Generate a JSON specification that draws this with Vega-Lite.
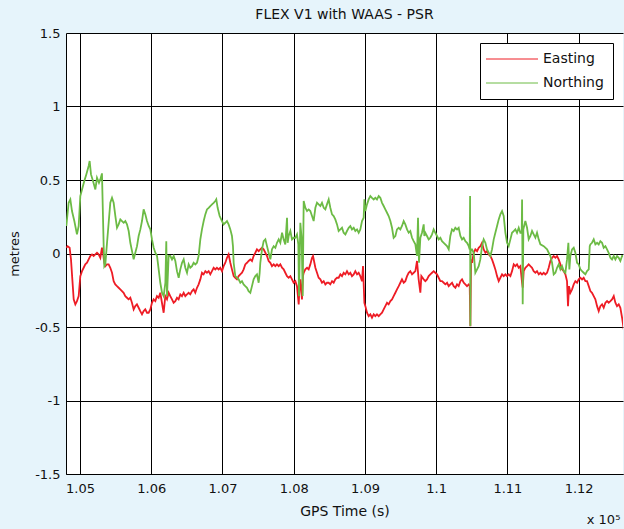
{
  "$schema": "https://vega.github.io/schema/vega-lite/v6.json",
  "width": 557,
  "height": 441,
  "autosize": {"type": "none"},
  "padding": {"left": 66, "top": 33, "right": 1, "bottom": 55},
  "background": "#e6f4fb",
  "config": {
    "font": "DejaVu Sans",
    "view": {"stroke": null, "fill": "#ffffff"}
  },
  "title": {"text": "FLEX V1 with WAAS - PSR", "fontSize": 14, "fontWeight": "normal", "color": "#111111", "offset": 5, "anchor": "middle", "font": "DejaVu Sans"},
  "layer": [
    {
      "data": {"values": [
        {"t":104808,"v":0.039,"s":"Easting"},{"t":104826,"v":0.050,"s":"Easting"},{"t":104854,"v":0.039,"s":"Easting"},{"t":104873,"v":-0.040,"s":"Easting"},{"t":104892,"v":-0.176,"s":"Easting"},{"t":104911,"v":-0.312,"s":"Easting"},{"t":104934,"v":-0.346,"s":"Easting"},{"t":104957,"v":-0.324,"s":"Easting"},{"t":104981,"v":-0.290,"s":"Easting"},{"t":105004,"v":-0.154,"s":"Easting"},{"t":105028,"v":-0.120,"s":"Easting"},{"t":105051,"v":-0.097,"s":"Easting"},{"t":105074,"v":-0.074,"s":"Easting"},{"t":105098,"v":-0.063,"s":"Easting"},{"t":105121,"v":-0.040,"s":"Easting"},{"t":105144,"v":-0.017,"s":"Easting"},{"t":105168,"v":-0.006,"s":"Easting"},{"t":105191,"v":-0.017,"s":"Easting"},{"t":105215,"v":-0.006,"s":"Easting"},{"t":105238,"v":0.005,"s":"Easting"},{"t":105261,"v":-0.006,"s":"Easting"},{"t":105285,"v":-0.029,"s":"Easting"},{"t":105308,"v":0.039,"s":"Easting"},{"t":105322,"v":0.005,"s":"Easting"},{"t":105341,"v":-0.063,"s":"Easting"},{"t":105355,"v":-0.086,"s":"Easting"},{"t":105378,"v":-0.074,"s":"Easting"},{"t":105402,"v":-0.074,"s":"Easting"},{"t":105425,"v":-0.097,"s":"Easting"},{"t":105449,"v":-0.131,"s":"Easting"},{"t":105472,"v":-0.188,"s":"Easting"},{"t":105495,"v":-0.210,"s":"Easting"},{"t":105519,"v":-0.222,"s":"Easting"},{"t":105542,"v":-0.233,"s":"Easting"},{"t":105565,"v":-0.244,"s":"Easting"},{"t":105589,"v":-0.256,"s":"Easting"},{"t":105612,"v":-0.267,"s":"Easting"},{"t":105636,"v":-0.290,"s":"Easting"},{"t":105659,"v":-0.301,"s":"Easting"},{"t":105682,"v":-0.312,"s":"Easting"},{"t":105706,"v":-0.301,"s":"Easting"},{"t":105729,"v":-0.335,"s":"Easting"},{"t":105753,"v":-0.380,"s":"Easting"},{"t":105776,"v":-0.358,"s":"Easting"},{"t":105799,"v":-0.346,"s":"Easting"},{"t":105823,"v":-0.369,"s":"Easting"},{"t":105846,"v":-0.392,"s":"Easting"},{"t":105870,"v":-0.414,"s":"Easting"},{"t":105893,"v":-0.392,"s":"Easting"},{"t":105916,"v":-0.380,"s":"Easting"},{"t":105940,"v":-0.403,"s":"Easting"},{"t":105963,"v":-0.403,"s":"Easting"},{"t":105987,"v":-0.380,"s":"Easting"},{"t":106010,"v":-0.335,"s":"Easting"},{"t":106033,"v":-0.312,"s":"Easting"},{"t":106057,"v":-0.324,"s":"Easting"},{"t":106080,"v":-0.290,"s":"Easting"},{"t":106104,"v":-0.301,"s":"Easting"},{"t":106127,"v":-0.267,"s":"Easting"},{"t":106150,"v":-0.335,"s":"Easting"},{"t":106174,"v":-0.403,"s":"Easting"},{"t":106197,"v":-0.290,"s":"Easting"},{"t":106221,"v":-0.312,"s":"Easting"},{"t":106244,"v":-0.267,"s":"Easting"},{"t":106267,"v":-0.290,"s":"Easting"},{"t":106291,"v":-0.312,"s":"Easting"},{"t":106314,"v":-0.335,"s":"Easting"},{"t":106338,"v":-0.324,"s":"Easting"},{"t":106361,"v":-0.301,"s":"Easting"},{"t":106384,"v":-0.312,"s":"Easting"},{"t":106408,"v":-0.278,"s":"Easting"},{"t":106431,"v":-0.290,"s":"Easting"},{"t":106455,"v":-0.267,"s":"Easting"},{"t":106478,"v":-0.290,"s":"Easting"},{"t":106501,"v":-0.278,"s":"Easting"},{"t":106525,"v":-0.267,"s":"Easting"},{"t":106548,"v":-0.278,"s":"Easting"},{"t":106572,"v":-0.256,"s":"Easting"},{"t":106595,"v":-0.244,"s":"Easting"},{"t":106618,"v":-0.267,"s":"Easting"},{"t":106642,"v":-0.233,"s":"Easting"},{"t":106665,"v":-0.210,"s":"Easting"},{"t":106689,"v":-0.176,"s":"Easting"},{"t":106712,"v":-0.131,"s":"Easting"},{"t":106735,"v":-0.142,"s":"Easting"},{"t":106759,"v":-0.120,"s":"Easting"},{"t":106782,"v":-0.131,"s":"Easting"},{"t":106806,"v":-0.120,"s":"Easting"},{"t":106829,"v":-0.142,"s":"Easting"},{"t":106852,"v":-0.120,"s":"Easting"},{"t":106876,"v":-0.097,"s":"Easting"},{"t":106899,"v":-0.108,"s":"Easting"},{"t":106922,"v":-0.097,"s":"Easting"},{"t":106946,"v":-0.108,"s":"Easting"},{"t":106969,"v":-0.097,"s":"Easting"},{"t":106993,"v":-0.120,"s":"Easting"},{"t":107016,"v":-0.086,"s":"Easting"},{"t":107040,"v":-0.063,"s":"Easting"},{"t":107063,"v":-0.029,"s":"Easting"},{"t":107086,"v":-0.006,"s":"Easting"},{"t":107110,"v":-0.063,"s":"Easting"},{"t":107133,"v":-0.108,"s":"Easting"},{"t":107157,"v":-0.154,"s":"Easting"},{"t":107180,"v":-0.165,"s":"Easting"},{"t":107203,"v":-0.176,"s":"Easting"},{"t":107227,"v":-0.154,"s":"Easting"},{"t":107250,"v":-0.142,"s":"Easting"},{"t":107274,"v":-0.131,"s":"Easting"},{"t":107297,"v":-0.108,"s":"Easting"},{"t":107320,"v":-0.074,"s":"Easting"},{"t":107344,"v":-0.063,"s":"Easting"},{"t":107367,"v":-0.051,"s":"Easting"},{"t":107391,"v":-0.040,"s":"Easting"},{"t":107414,"v":-0.051,"s":"Easting"},{"t":107437,"v":-0.017,"s":"Easting"},{"t":107461,"v":0.005,"s":"Easting"},{"t":107484,"v":0.028,"s":"Easting"},{"t":107508,"v":0.016,"s":"Easting"},{"t":107531,"v":0.028,"s":"Easting"},{"t":107555,"v":0.039,"s":"Easting"},{"t":107578,"v":0.028,"s":"Easting"},{"t":107602,"v":0.005,"s":"Easting"},{"t":107625,"v":-0.017,"s":"Easting"},{"t":107648,"v":-0.051,"s":"Easting"},{"t":107672,"v":-0.063,"s":"Easting"},{"t":107695,"v":-0.086,"s":"Easting"},{"t":107719,"v":-0.074,"s":"Easting"},{"t":107742,"v":-0.086,"s":"Easting"},{"t":107765,"v":-0.074,"s":"Easting"},{"t":107789,"v":-0.086,"s":"Easting"},{"t":107812,"v":-0.074,"s":"Easting"},{"t":107836,"v":-0.097,"s":"Easting"},{"t":107859,"v":-0.108,"s":"Easting"},{"t":107882,"v":-0.131,"s":"Easting"},{"t":107906,"v":-0.154,"s":"Easting"},{"t":107929,"v":-0.165,"s":"Easting"},{"t":107953,"v":-0.154,"s":"Easting"},{"t":107976,"v":-0.176,"s":"Easting"},{"t":107999,"v":-0.199,"s":"Easting"},{"t":108023,"v":-0.188,"s":"Easting"},{"t":108046,"v":-0.222,"s":"Easting"},{"t":108070,"v":-0.346,"s":"Easting"},{"t":108084,"v":-0.199,"s":"Easting"},{"t":108093,"v":-0.176,"s":"Easting"},{"t":108116,"v":-0.312,"s":"Easting"},{"t":108130,"v":-0.154,"s":"Easting"},{"t":108140,"v":-0.131,"s":"Easting"},{"t":108163,"v":-0.108,"s":"Easting"},{"t":108187,"v":-0.097,"s":"Easting"},{"t":108210,"v":-0.108,"s":"Easting"},{"t":108233,"v":-0.074,"s":"Easting"},{"t":108257,"v":-0.029,"s":"Easting"},{"t":108271,"v":-0.017,"s":"Easting"},{"t":108290,"v":-0.063,"s":"Easting"},{"t":108304,"v":-0.097,"s":"Easting"},{"t":108327,"v":-0.131,"s":"Easting"},{"t":108350,"v":-0.165,"s":"Easting"},{"t":108374,"v":-0.176,"s":"Easting"},{"t":108397,"v":-0.199,"s":"Easting"},{"t":108421,"v":-0.188,"s":"Easting"},{"t":108444,"v":-0.210,"s":"Easting"},{"t":108467,"v":-0.199,"s":"Easting"},{"t":108491,"v":-0.199,"s":"Easting"},{"t":108514,"v":-0.210,"s":"Easting"},{"t":108538,"v":-0.188,"s":"Easting"},{"t":108561,"v":-0.199,"s":"Easting"},{"t":108584,"v":-0.176,"s":"Easting"},{"t":108608,"v":-0.165,"s":"Easting"},{"t":108631,"v":-0.165,"s":"Easting"},{"t":108655,"v":-0.142,"s":"Easting"},{"t":108678,"v":-0.154,"s":"Easting"},{"t":108701,"v":-0.131,"s":"Easting"},{"t":108725,"v":-0.142,"s":"Easting"},{"t":108748,"v":-0.120,"s":"Easting"},{"t":108772,"v":-0.142,"s":"Easting"},{"t":108795,"v":-0.131,"s":"Easting"},{"t":108818,"v":-0.154,"s":"Easting"},{"t":108842,"v":-0.142,"s":"Easting"},{"t":108865,"v":-0.120,"s":"Easting"},{"t":108889,"v":-0.142,"s":"Easting"},{"t":108912,"v":-0.131,"s":"Easting"},{"t":108935,"v":-0.154,"s":"Easting"},{"t":108959,"v":-0.188,"s":"Easting"},{"t":108973,"v":-0.086,"s":"Easting"},{"t":108992,"v":-0.335,"s":"Easting"},{"t":109006,"v":-0.358,"s":"Easting"},{"t":109029,"v":-0.403,"s":"Easting"},{"t":109052,"v":-0.426,"s":"Easting"},{"t":109076,"v":-0.414,"s":"Easting"},{"t":109099,"v":-0.437,"s":"Easting"},{"t":109123,"v":-0.414,"s":"Easting"},{"t":109146,"v":-0.426,"s":"Easting"},{"t":109169,"v":-0.414,"s":"Easting"},{"t":109193,"v":-0.426,"s":"Easting"},{"t":109216,"v":-0.414,"s":"Easting"},{"t":109240,"v":-0.403,"s":"Easting"},{"t":109263,"v":-0.380,"s":"Easting"},{"t":109286,"v":-0.358,"s":"Easting"},{"t":109310,"v":-0.335,"s":"Easting"},{"t":109333,"v":-0.346,"s":"Easting"},{"t":109357,"v":-0.324,"s":"Easting"},{"t":109380,"v":-0.312,"s":"Easting"},{"t":109403,"v":-0.290,"s":"Easting"},{"t":109427,"v":-0.267,"s":"Easting"},{"t":109450,"v":-0.244,"s":"Easting"},{"t":109474,"v":-0.222,"s":"Easting"},{"t":109497,"v":-0.199,"s":"Easting"},{"t":109520,"v":-0.176,"s":"Easting"},{"t":109544,"v":-0.199,"s":"Easting"},{"t":109567,"v":-0.188,"s":"Easting"},{"t":109591,"v":-0.154,"s":"Easting"},{"t":109614,"v":-0.131,"s":"Easting"},{"t":109637,"v":-0.120,"s":"Easting"},{"t":109661,"v":-0.142,"s":"Easting"},{"t":109684,"v":-0.131,"s":"Easting"},{"t":109708,"v":-0.120,"s":"Easting"},{"t":109731,"v":-0.051,"s":"Easting"},{"t":109754,"v":-0.176,"s":"Easting"},{"t":109778,"v":-0.267,"s":"Easting"},{"t":109792,"v":-0.154,"s":"Easting"},{"t":109825,"v":-0.176,"s":"Easting"},{"t":109848,"v":-0.188,"s":"Easting"},{"t":109871,"v":-0.176,"s":"Easting"},{"t":109895,"v":-0.154,"s":"Easting"},{"t":109918,"v":-0.142,"s":"Easting"},{"t":109942,"v":-0.131,"s":"Easting"},{"t":109965,"v":-0.120,"s":"Easting"},{"t":109988,"v":-0.131,"s":"Easting"},{"t":110012,"v":-0.142,"s":"Easting"},{"t":110035,"v":-0.165,"s":"Easting"},{"t":110059,"v":-0.188,"s":"Easting"},{"t":110082,"v":-0.188,"s":"Easting"},{"t":110106,"v":-0.199,"s":"Easting"},{"t":110129,"v":-0.210,"s":"Easting"},{"t":110153,"v":-0.199,"s":"Easting"},{"t":110176,"v":-0.222,"s":"Easting"},{"t":110199,"v":-0.210,"s":"Easting"},{"t":110223,"v":-0.199,"s":"Easting"},{"t":110246,"v":-0.222,"s":"Easting"},{"t":110270,"v":-0.233,"s":"Easting"},{"t":110293,"v":-0.210,"s":"Easting"},{"t":110316,"v":-0.222,"s":"Easting"},{"t":110340,"v":-0.188,"s":"Easting"},{"t":110363,"v":-0.176,"s":"Easting"},{"t":110387,"v":-0.199,"s":"Easting"},{"t":110410,"v":-0.210,"s":"Easting"},{"t":110433,"v":-0.222,"s":"Easting"},{"t":110457,"v":-0.210,"s":"Easting"},{"t":110471,"v":-0.222,"s":"Easting"},{"t":110480,"v":-0.494,"s":"Easting"},{"t":110490,"v":-0.040,"s":"Easting"},{"t":110504,"v":-0.063,"s":"Easting"},{"t":110527,"v":0.005,"s":"Easting"},{"t":110550,"v":0.028,"s":"Easting"},{"t":110574,"v":0.016,"s":"Easting"},{"t":110597,"v":0.039,"s":"Easting"},{"t":110621,"v":0.050,"s":"Easting"},{"t":110644,"v":0.073,"s":"Easting"},{"t":110667,"v":0.028,"s":"Easting"},{"t":110691,"v":0.005,"s":"Easting"},{"t":110714,"v":0.016,"s":"Easting"},{"t":110738,"v":-0.006,"s":"Easting"},{"t":110761,"v":-0.017,"s":"Easting"},{"t":110784,"v":-0.040,"s":"Easting"},{"t":110808,"v":-0.074,"s":"Easting"},{"t":110831,"v":-0.108,"s":"Easting"},{"t":110855,"v":-0.154,"s":"Easting"},{"t":110878,"v":-0.188,"s":"Easting"},{"t":110901,"v":-0.165,"s":"Easting"},{"t":110925,"v":-0.142,"s":"Easting"},{"t":110948,"v":-0.154,"s":"Easting"},{"t":110972,"v":-0.142,"s":"Easting"},{"t":110995,"v":-0.154,"s":"Easting"},{"t":111018,"v":-0.142,"s":"Easting"},{"t":111042,"v":-0.154,"s":"Easting"},{"t":111065,"v":-0.120,"s":"Easting"},{"t":111089,"v":-0.074,"s":"Easting"},{"t":111112,"v":-0.086,"s":"Easting"},{"t":111135,"v":-0.074,"s":"Easting"},{"t":111159,"v":-0.097,"s":"Easting"},{"t":111182,"v":-0.086,"s":"Easting"},{"t":111206,"v":-0.199,"s":"Easting"},{"t":111215,"v":-0.233,"s":"Easting"},{"t":111229,"v":-0.120,"s":"Easting"},{"t":111252,"v":-0.097,"s":"Easting"},{"t":111276,"v":-0.086,"s":"Easting"},{"t":111299,"v":-0.074,"s":"Easting"},{"t":111323,"v":-0.086,"s":"Easting"},{"t":111346,"v":-0.097,"s":"Easting"},{"t":111369,"v":-0.120,"s":"Easting"},{"t":111393,"v":-0.131,"s":"Easting"},{"t":111416,"v":-0.120,"s":"Easting"},{"t":111440,"v":-0.142,"s":"Easting"},{"t":111463,"v":-0.131,"s":"Easting"},{"t":111486,"v":-0.142,"s":"Easting"},{"t":111510,"v":-0.131,"s":"Easting"},{"t":111533,"v":-0.142,"s":"Easting"},{"t":111557,"v":-0.131,"s":"Easting"},{"t":111580,"v":-0.097,"s":"Easting"},{"t":111603,"v":-0.051,"s":"Easting"},{"t":111627,"v":-0.029,"s":"Easting"},{"t":111650,"v":-0.017,"s":"Easting"},{"t":111674,"v":-0.029,"s":"Easting"},{"t":111697,"v":-0.017,"s":"Easting"},{"t":111720,"v":-0.040,"s":"Easting"},{"t":111744,"v":-0.074,"s":"Easting"},{"t":111767,"v":-0.108,"s":"Easting"},{"t":111791,"v":-0.120,"s":"Easting"},{"t":111814,"v":-0.142,"s":"Easting"},{"t":111837,"v":-0.188,"s":"Easting"},{"t":111851,"v":-0.358,"s":"Easting"},{"t":111865,"v":-0.222,"s":"Easting"},{"t":111884,"v":-0.267,"s":"Easting"},{"t":111908,"v":-0.244,"s":"Easting"},{"t":111931,"v":-0.210,"s":"Easting"},{"t":111954,"v":-0.188,"s":"Easting"},{"t":111978,"v":-0.199,"s":"Easting"},{"t":112001,"v":-0.176,"s":"Easting"},{"t":112025,"v":-0.165,"s":"Easting"},{"t":112048,"v":-0.176,"s":"Easting"},{"t":112071,"v":-0.165,"s":"Easting"},{"t":112095,"v":-0.188,"s":"Easting"},{"t":112118,"v":-0.188,"s":"Easting"},{"t":112142,"v":-0.222,"s":"Easting"},{"t":112165,"v":-0.256,"s":"Easting"},{"t":112188,"v":-0.267,"s":"Easting"},{"t":112212,"v":-0.290,"s":"Easting"},{"t":112235,"v":-0.312,"s":"Easting"},{"t":112259,"v":-0.358,"s":"Easting"},{"t":112282,"v":-0.392,"s":"Easting"},{"t":112305,"v":-0.358,"s":"Easting"},{"t":112329,"v":-0.346,"s":"Easting"},{"t":112352,"v":-0.369,"s":"Easting"},{"t":112376,"v":-0.335,"s":"Easting"},{"t":112399,"v":-0.324,"s":"Easting"},{"t":112422,"v":-0.335,"s":"Easting"},{"t":112446,"v":-0.324,"s":"Easting"},{"t":112469,"v":-0.312,"s":"Easting"},{"t":112493,"v":-0.290,"s":"Easting"},{"t":112516,"v":-0.335,"s":"Easting"},{"t":112539,"v":-0.358,"s":"Easting"},{"t":112563,"v":-0.346,"s":"Easting"},{"t":112586,"v":-0.369,"s":"Easting"},{"t":112610,"v":-0.437,"s":"Easting"},{"t":112633,"v":-0.517,"s":"Easting"},
        {"t":104808,"v":0.187,"s":"Northing"},{"t":104840,"v":0.345,"s":"Northing"},{"t":104864,"v":0.368,"s":"Northing"},{"t":104887,"v":0.289,"s":"Northing"},{"t":104920,"v":0.221,"s":"Northing"},{"t":104957,"v":0.130,"s":"Northing"},{"t":104981,"v":0.187,"s":"Northing"},{"t":105004,"v":0.391,"s":"Northing"},{"t":105028,"v":0.436,"s":"Northing"},{"t":105060,"v":0.493,"s":"Northing"},{"t":105088,"v":0.538,"s":"Northing"},{"t":105121,"v":0.595,"s":"Northing"},{"t":105135,"v":0.629,"s":"Northing"},{"t":105154,"v":0.538,"s":"Northing"},{"t":105182,"v":0.493,"s":"Northing"},{"t":105215,"v":0.436,"s":"Northing"},{"t":105238,"v":0.515,"s":"Northing"},{"t":105266,"v":0.481,"s":"Northing"},{"t":105285,"v":0.504,"s":"Northing"},{"t":105308,"v":0.545,"s":"Northing"},{"t":105322,"v":0.255,"s":"Northing"},{"t":105332,"v":0.050,"s":"Northing"},{"t":105341,"v":-0.086,"s":"Northing"},{"t":105355,"v":-0.074,"s":"Northing"},{"t":105379,"v":0.073,"s":"Northing"},{"t":105402,"v":0.209,"s":"Northing"},{"t":105425,"v":0.345,"s":"Northing"},{"t":105449,"v":0.379,"s":"Northing"},{"t":105472,"v":0.345,"s":"Northing"},{"t":105496,"v":0.255,"s":"Northing"},{"t":105519,"v":0.175,"s":"Northing"},{"t":105542,"v":0.198,"s":"Northing"},{"t":105566,"v":0.232,"s":"Northing"},{"t":105589,"v":0.221,"s":"Northing"},{"t":105613,"v":0.209,"s":"Northing"},{"t":105636,"v":0.221,"s":"Northing"},{"t":105659,"v":0.198,"s":"Northing"},{"t":105683,"v":0.153,"s":"Northing"},{"t":105706,"v":0.073,"s":"Northing"},{"t":105730,"v":0.016,"s":"Northing"},{"t":105753,"v":-0.040,"s":"Northing"},{"t":105776,"v":0.005,"s":"Northing"},{"t":105800,"v":0.050,"s":"Northing"},{"t":105823,"v":0.119,"s":"Northing"},{"t":105847,"v":0.164,"s":"Northing"},{"t":105870,"v":0.221,"s":"Northing"},{"t":105893,"v":0.300,"s":"Northing"},{"t":105917,"v":0.266,"s":"Northing"},{"t":105940,"v":0.221,"s":"Northing"},{"t":105964,"v":0.187,"s":"Northing"},{"t":105987,"v":0.164,"s":"Northing"},{"t":106010,"v":0.096,"s":"Northing"},{"t":106034,"v":0.039,"s":"Northing"},{"t":106057,"v":0.005,"s":"Northing"},{"t":106081,"v":-0.017,"s":"Northing"},{"t":106104,"v":-0.108,"s":"Northing"},{"t":106127,"v":-0.199,"s":"Northing"},{"t":106151,"v":-0.267,"s":"Northing"},{"t":106174,"v":-0.290,"s":"Northing"},{"t":106198,"v":-0.199,"s":"Northing"},{"t":106211,"v":0.084,"s":"Northing"},{"t":106221,"v":-0.290,"s":"Northing"},{"t":106244,"v":-0.017,"s":"Northing"},{"t":106268,"v":-0.017,"s":"Northing"},{"t":106291,"v":-0.040,"s":"Northing"},{"t":106315,"v":-0.017,"s":"Northing"},{"t":106338,"v":-0.051,"s":"Northing"},{"t":106361,"v":-0.120,"s":"Northing"},{"t":106385,"v":-0.165,"s":"Northing"},{"t":106408,"v":-0.108,"s":"Northing"},{"t":106432,"v":-0.063,"s":"Northing"},{"t":106455,"v":-0.040,"s":"Northing"},{"t":106478,"v":-0.097,"s":"Northing"},{"t":106502,"v":-0.131,"s":"Northing"},{"t":106525,"v":-0.074,"s":"Northing"},{"t":106548,"v":-0.097,"s":"Northing"},{"t":106572,"v":-0.086,"s":"Northing"},{"t":106595,"v":-0.063,"s":"Northing"},{"t":106619,"v":-0.074,"s":"Northing"},{"t":106642,"v":-0.063,"s":"Northing"},{"t":106665,"v":-0.017,"s":"Northing"},{"t":106689,"v":0.096,"s":"Northing"},{"t":106712,"v":0.164,"s":"Northing"},{"t":106736,"v":0.221,"s":"Northing"},{"t":106759,"v":0.266,"s":"Northing"},{"t":106782,"v":0.300,"s":"Northing"},{"t":106806,"v":0.311,"s":"Northing"},{"t":106829,"v":0.323,"s":"Northing"},{"t":106853,"v":0.334,"s":"Northing"},{"t":106876,"v":0.345,"s":"Northing"},{"t":106899,"v":0.357,"s":"Northing"},{"t":106913,"v":0.368,"s":"Northing"},{"t":106932,"v":0.311,"s":"Northing"},{"t":106960,"v":0.255,"s":"Northing"},{"t":106993,"v":0.221,"s":"Northing"},{"t":107016,"v":0.198,"s":"Northing"},{"t":107040,"v":0.209,"s":"Northing"},{"t":107063,"v":0.221,"s":"Northing"},{"t":107086,"v":0.198,"s":"Northing"},{"t":107110,"v":0.164,"s":"Northing"},{"t":107133,"v":0.119,"s":"Northing"},{"t":107147,"v":0.050,"s":"Northing"},{"t":107157,"v":-0.063,"s":"Northing"},{"t":107180,"v":-0.154,"s":"Northing"},{"t":107203,"v":-0.165,"s":"Northing"},{"t":107227,"v":-0.176,"s":"Northing"},{"t":107250,"v":-0.199,"s":"Northing"},{"t":107274,"v":-0.188,"s":"Northing"},{"t":107297,"v":-0.210,"s":"Northing"},{"t":107320,"v":-0.222,"s":"Northing"},{"t":107344,"v":-0.233,"s":"Northing"},{"t":107367,"v":-0.256,"s":"Northing"},{"t":107391,"v":-0.267,"s":"Northing"},{"t":107414,"v":-0.222,"s":"Northing"},{"t":107437,"v":-0.176,"s":"Northing"},{"t":107461,"v":-0.154,"s":"Northing"},{"t":107484,"v":-0.142,"s":"Northing"},{"t":107508,"v":-0.199,"s":"Northing"},{"t":107522,"v":-0.131,"s":"Northing"},{"t":107531,"v":-0.063,"s":"Northing"},{"t":107555,"v":0.028,"s":"Northing"},{"t":107578,"v":0.084,"s":"Northing"},{"t":107602,"v":0.096,"s":"Northing"},{"t":107625,"v":0.050,"s":"Northing"},{"t":107648,"v":0.005,"s":"Northing"},{"t":107672,"v":-0.040,"s":"Northing"},{"t":107695,"v":0.028,"s":"Northing"},{"t":107719,"v":0.050,"s":"Northing"},{"t":107742,"v":0.039,"s":"Northing"},{"t":107765,"v":0.073,"s":"Northing"},{"t":107789,"v":0.096,"s":"Northing"},{"t":107812,"v":0.073,"s":"Northing"},{"t":107836,"v":0.141,"s":"Northing"},{"t":107859,"v":0.096,"s":"Northing"},{"t":107882,"v":0.062,"s":"Northing"},{"t":107906,"v":0.243,"s":"Northing"},{"t":107915,"v":0.073,"s":"Northing"},{"t":107929,"v":0.119,"s":"Northing"},{"t":107953,"v":0.153,"s":"Northing"},{"t":107976,"v":0.096,"s":"Northing"},{"t":107999,"v":0.107,"s":"Northing"},{"t":108023,"v":0.107,"s":"Northing"},{"t":108046,"v":0.130,"s":"Northing"},{"t":108065,"v":0.062,"s":"Northing"},{"t":108074,"v":-0.290,"s":"Northing"},{"t":108093,"v":0.209,"s":"Northing"},{"t":108112,"v":0.096,"s":"Northing"},{"t":108126,"v":-0.290,"s":"Northing"},{"t":108140,"v":0.357,"s":"Northing"},{"t":108163,"v":0.311,"s":"Northing"},{"t":108187,"v":0.289,"s":"Northing"},{"t":108210,"v":0.300,"s":"Northing"},{"t":108233,"v":0.289,"s":"Northing"},{"t":108257,"v":0.255,"s":"Northing"},{"t":108280,"v":0.221,"s":"Northing"},{"t":108304,"v":0.311,"s":"Northing"},{"t":108327,"v":0.345,"s":"Northing"},{"t":108350,"v":0.334,"s":"Northing"},{"t":108374,"v":0.323,"s":"Northing"},{"t":108397,"v":0.345,"s":"Northing"},{"t":108421,"v":0.311,"s":"Northing"},{"t":108444,"v":0.300,"s":"Northing"},{"t":108467,"v":0.334,"s":"Northing"},{"t":108491,"v":0.368,"s":"Northing"},{"t":108514,"v":0.311,"s":"Northing"},{"t":108538,"v":0.266,"s":"Northing"},{"t":108561,"v":0.255,"s":"Northing"},{"t":108584,"v":0.232,"s":"Northing"},{"t":108608,"v":0.198,"s":"Northing"},{"t":108631,"v":0.153,"s":"Northing"},{"t":108655,"v":0.164,"s":"Northing"},{"t":108678,"v":0.175,"s":"Northing"},{"t":108701,"v":0.141,"s":"Northing"},{"t":108725,"v":0.130,"s":"Northing"},{"t":108748,"v":0.153,"s":"Northing"},{"t":108772,"v":0.175,"s":"Northing"},{"t":108795,"v":0.187,"s":"Northing"},{"t":108818,"v":0.164,"s":"Northing"},{"t":108842,"v":0.175,"s":"Northing"},{"t":108865,"v":0.153,"s":"Northing"},{"t":108889,"v":0.164,"s":"Northing"},{"t":108912,"v":0.141,"s":"Northing"},{"t":108935,"v":0.164,"s":"Northing"},{"t":108959,"v":0.221,"s":"Northing"},{"t":108982,"v":0.243,"s":"Northing"},{"t":108992,"v":0.368,"s":"Northing"},{"t":109006,"v":0.289,"s":"Northing"},{"t":109029,"v":0.334,"s":"Northing"},{"t":109052,"v":0.368,"s":"Northing"},{"t":109076,"v":0.391,"s":"Northing"},{"t":109099,"v":0.379,"s":"Northing"},{"t":109123,"v":0.368,"s":"Northing"},{"t":109146,"v":0.379,"s":"Northing"},{"t":109169,"v":0.368,"s":"Northing"},{"t":109193,"v":0.391,"s":"Northing"},{"t":109216,"v":0.379,"s":"Northing"},{"t":109240,"v":0.345,"s":"Northing"},{"t":109263,"v":0.323,"s":"Northing"},{"t":109286,"v":0.300,"s":"Northing"},{"t":109310,"v":0.277,"s":"Northing"},{"t":109333,"v":0.255,"s":"Northing"},{"t":109357,"v":0.221,"s":"Northing"},{"t":109380,"v":0.175,"s":"Northing"},{"t":109403,"v":0.107,"s":"Northing"},{"t":109427,"v":0.119,"s":"Northing"},{"t":109450,"v":0.164,"s":"Northing"},{"t":109474,"v":0.175,"s":"Northing"},{"t":109497,"v":0.164,"s":"Northing"},{"t":109520,"v":0.187,"s":"Northing"},{"t":109544,"v":0.221,"s":"Northing"},{"t":109567,"v":0.198,"s":"Northing"},{"t":109591,"v":0.164,"s":"Northing"},{"t":109614,"v":0.141,"s":"Northing"},{"t":109637,"v":0.153,"s":"Northing"},{"t":109661,"v":0.107,"s":"Northing"},{"t":109684,"v":0.084,"s":"Northing"},{"t":109708,"v":0.062,"s":"Northing"},{"t":109731,"v":-0.017,"s":"Northing"},{"t":109745,"v":0.243,"s":"Northing"},{"t":109759,"v":-0.063,"s":"Northing"},{"t":109778,"v":0.107,"s":"Northing"},{"t":109801,"v":0.141,"s":"Northing"},{"t":109825,"v":0.198,"s":"Northing"},{"t":109834,"v":0.119,"s":"Northing"},{"t":109848,"v":0.141,"s":"Northing"},{"t":109871,"v":0.119,"s":"Northing"},{"t":109895,"v":0.096,"s":"Northing"},{"t":109918,"v":0.107,"s":"Northing"},{"t":109942,"v":0.130,"s":"Northing"},{"t":109965,"v":0.164,"s":"Northing"},{"t":109988,"v":0.141,"s":"Northing"},{"t":110012,"v":0.119,"s":"Northing"},{"t":110035,"v":0.096,"s":"Northing"},{"t":110059,"v":0.107,"s":"Northing"},{"t":110082,"v":0.084,"s":"Northing"},{"t":110106,"v":0.073,"s":"Northing"},{"t":110152,"v":0.050,"s":"Northing"},{"t":110176,"v":0.028,"s":"Northing"},{"t":110199,"v":0.119,"s":"Northing"},{"t":110222,"v":0.164,"s":"Northing"},{"t":110246,"v":0.153,"s":"Northing"},{"t":110269,"v":0.175,"s":"Northing"},{"t":110293,"v":0.164,"s":"Northing"},{"t":110316,"v":0.175,"s":"Northing"},{"t":110340,"v":0.119,"s":"Northing"},{"t":110363,"v":0.096,"s":"Northing"},{"t":110386,"v":0.107,"s":"Northing"},{"t":110410,"v":0.084,"s":"Northing"},{"t":110433,"v":0.073,"s":"Northing"},{"t":110457,"v":0.050,"s":"Northing"},{"t":110471,"v":0.028,"s":"Northing"},{"t":110476,"v":0.391,"s":"Northing"},{"t":110480,"v":-0.494,"s":"Northing"},{"t":110485,"v":0.028,"s":"Northing"},{"t":110504,"v":0.028,"s":"Northing"},{"t":110527,"v":0.005,"s":"Northing"},{"t":110550,"v":-0.131,"s":"Northing"},{"t":110574,"v":-0.108,"s":"Northing"},{"t":110597,"v":-0.086,"s":"Northing"},{"t":110620,"v":-0.040,"s":"Northing"},{"t":110644,"v":0.050,"s":"Northing"},{"t":110667,"v":0.096,"s":"Northing"},{"t":110691,"v":0.073,"s":"Northing"},{"t":110714,"v":0.028,"s":"Northing"},{"t":110738,"v":0.005,"s":"Northing"},{"t":110761,"v":-0.017,"s":"Northing"},{"t":110784,"v":0.028,"s":"Northing"},{"t":110808,"v":0.096,"s":"Northing"},{"t":110831,"v":0.141,"s":"Northing"},{"t":110855,"v":0.187,"s":"Northing"},{"t":110878,"v":0.232,"s":"Northing"},{"t":110901,"v":0.266,"s":"Northing"},{"t":110925,"v":0.289,"s":"Northing"},{"t":110948,"v":0.255,"s":"Northing"},{"t":110972,"v":0.141,"s":"Northing"},{"t":110995,"v":0.073,"s":"Northing"},{"t":111018,"v":0.050,"s":"Northing"},{"t":111042,"v":0.096,"s":"Northing"},{"t":111065,"v":0.141,"s":"Northing"},{"t":111089,"v":0.153,"s":"Northing"},{"t":111112,"v":0.164,"s":"Northing"},{"t":111135,"v":0.141,"s":"Northing"},{"t":111159,"v":0.175,"s":"Northing"},{"t":111182,"v":0.141,"s":"Northing"},{"t":111201,"v":0.141,"s":"Northing"},{"t":111206,"v":0.368,"s":"Northing"},{"t":111215,"v":-0.346,"s":"Northing"},{"t":111224,"v":0.164,"s":"Northing"},{"t":111252,"v":0.221,"s":"Northing"},{"t":111276,"v":0.175,"s":"Northing"},{"t":111299,"v":0.096,"s":"Northing"},{"t":111323,"v":0.119,"s":"Northing"},{"t":111346,"v":0.153,"s":"Northing"},{"t":111369,"v":0.130,"s":"Northing"},{"t":111393,"v":0.107,"s":"Northing"},{"t":111416,"v":0.141,"s":"Northing"},{"t":111440,"v":0.096,"s":"Northing"},{"t":111463,"v":0.062,"s":"Northing"},{"t":111510,"v":0.050,"s":"Northing"},{"t":111557,"v":0.028,"s":"Northing"},{"t":111580,"v":0.005,"s":"Northing"},{"t":111603,"v":-0.017,"s":"Northing"},{"t":111627,"v":-0.063,"s":"Northing"},{"t":111650,"v":-0.142,"s":"Northing"},{"t":111674,"v":-0.131,"s":"Northing"},{"t":111697,"v":-0.097,"s":"Northing"},{"t":111720,"v":-0.074,"s":"Northing"},{"t":111744,"v":-0.108,"s":"Northing"},{"t":111767,"v":-0.086,"s":"Northing"},{"t":111791,"v":-0.120,"s":"Northing"},{"t":111814,"v":-0.131,"s":"Northing"},{"t":111837,"v":-0.040,"s":"Northing"},{"t":111856,"v":0.073,"s":"Northing"},{"t":111870,"v":-0.108,"s":"Northing"},{"t":111884,"v":-0.017,"s":"Northing"},{"t":111908,"v":0.028,"s":"Northing"},{"t":111931,"v":0.039,"s":"Northing"},{"t":111954,"v":0.005,"s":"Northing"},{"t":111978,"v":-0.063,"s":"Northing"},{"t":112001,"v":-0.074,"s":"Northing"},{"t":112025,"v":-0.108,"s":"Northing"},{"t":112048,"v":-0.120,"s":"Northing"},{"t":112071,"v":-0.131,"s":"Northing"},{"t":112095,"v":-0.142,"s":"Northing"},{"t":112118,"v":-0.120,"s":"Northing"},{"t":112142,"v":-0.108,"s":"Northing"},{"t":112156,"v":0.050,"s":"Northing"},{"t":112165,"v":0.062,"s":"Northing"},{"t":112188,"v":0.073,"s":"Northing"},{"t":112212,"v":0.096,"s":"Northing"},{"t":112235,"v":0.062,"s":"Northing"},{"t":112259,"v":0.073,"s":"Northing"},{"t":112282,"v":0.062,"s":"Northing"},{"t":112305,"v":0.084,"s":"Northing"},{"t":112329,"v":0.073,"s":"Northing"},{"t":112352,"v":0.039,"s":"Northing"},{"t":112376,"v":0.050,"s":"Northing"},{"t":112399,"v":0.028,"s":"Northing"},{"t":112422,"v":0.005,"s":"Northing"},{"t":112446,"v":-0.029,"s":"Northing"},{"t":112469,"v":-0.040,"s":"Northing"},{"t":112493,"v":-0.017,"s":"Northing"},{"t":112516,"v":-0.040,"s":"Northing"},{"t":112539,"v":-0.017,"s":"Northing"},{"t":112563,"v":-0.029,"s":"Northing"},{"t":112586,"v":-0.051,"s":"Northing"},{"t":112610,"v":-0.017,"s":"Northing"},{"t":112633,"v":-0.017,"s":"Northing"}
      ]},
      "mark": {"type": "line", "strokeWidth": 1.8, "clip": true},
      "encoding": {
        "x": {"field": "t", "type": "quantitative",
          "scale": {"domain": [104803, 112623], "nice": false, "zero": false},
          "axis": {"values": [105000, 106000, 107000, 108000, 109000, 110000, 111000, 112000],
            "labelExpr": "toString(datum.value / 100000)", "grid": true, "gridColor": "#000000", "gridOpacity": 1, "gridWidth": 1,
            "domainColor": "#000000", "ticks": false, "labelPadding": 8, "labelFontSize": 13, "labelColor": "#111111", "labelFont": "DejaVu Sans",
            "title": "GPS Time (s)", "titleFontSize": 14, "titleFontWeight": "normal", "titleColor": "#111111", "titlePadding": 9, "titleFont": "DejaVu Sans"}},
        "y": {"field": "v", "type": "quantitative",
          "scale": {"domain": [-1.5, 1.5], "nice": false, "zero": false},
          "axis": {"values": [-1.5, -1, -0.5, 0, 0.5, 1, 1.5],
            "labelExpr": "toString(datum.value)", "grid": true, "gridColor": "#000000", "gridOpacity": 1, "gridWidth": 1,
            "domainColor": "#000000", "ticks": false, "labelPadding": 6, "labelFontSize": 13, "labelColor": "#111111", "labelFont": "DejaVu Sans",
            "title": "metres", "titleFontSize": 13, "titleFontWeight": "normal", "titleColor": "#111111", "titlePadding": 13, "titleFont": "DejaVu Sans"}},
        "color": {"field": "s", "type": "nominal",
          "scale": {"domain": ["Easting", "Northing"], "range": ["#ee1c25", "#6cbb45"]},
          "legend": {"title": null, "orient": "none", "legendX": 414, "legendY": 10,
            "strokeColor": "#000000", "fillColor": "#ffffff", "padding": 9, "cornerRadius": 0,
            "symbolType": "M0,0H52", "symbolSize": 4, "symbolStrokeWidth": 1, "symbolOffset": -10,
            "labelFontSize": 14, "labelOffset": 50, "rowPadding": 10, "labelColor": "#111111", "labelFont": "DejaVu Sans"}}
      }
    },
    {
      "data": {"values": [{"note": "multiplier"}]},
      "mark": {"type": "text", "text": "x 10⁵", "fontSize": 13, "align": "center", "baseline": "middle", "color": "#111111", "font": "DejaVu Sans"},
      "encoding": {
        "x": {"datum": 112350, "type": "quantitative"},
        "y": {"datum": -1.815, "type": "quantitative"}
      }
    }
  ]
}
